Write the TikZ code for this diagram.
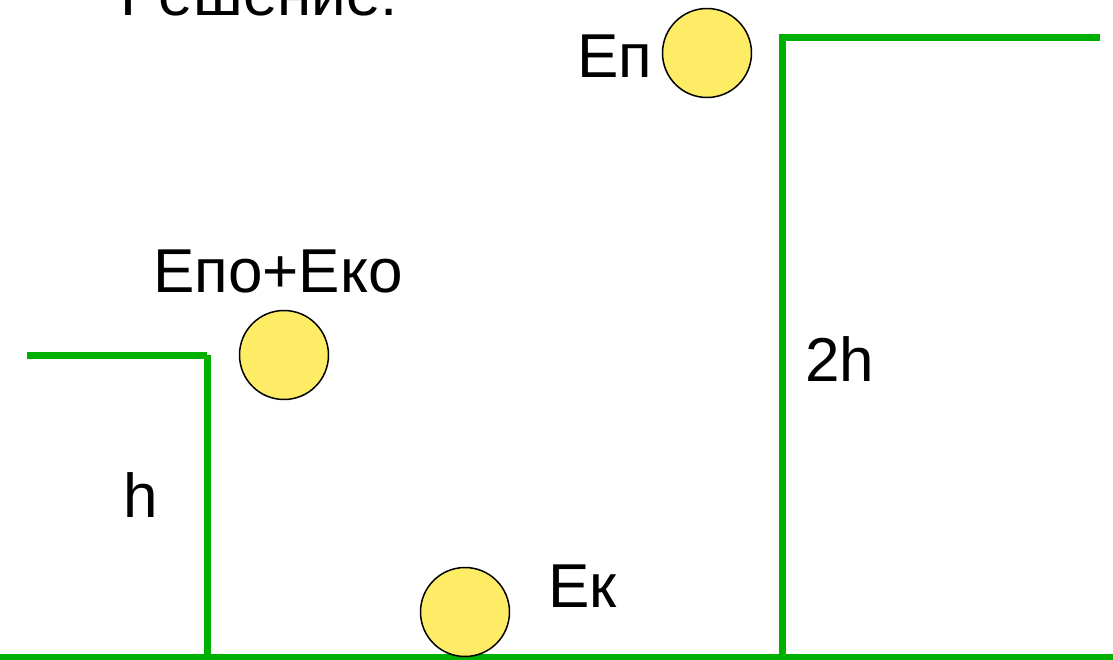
\documentclass[tikz,border=0pt]{standalone}
\usepackage{fontspec}
\setmainfont{Liberation Sans}
\definecolor{stepgreen}{RGB}{0,176,0}
\definecolor{ballyellow}{RGB}{255,236,102}

\begin{document}
\begin{tikzpicture}[x=1pt, y=-1pt,
    ground/.style={stepgreen, line width=7pt},
    ball/.style={circle, draw=black, line width=1.5pt, fill=ballyellow,
      minimum size=89pt, inner sep=0pt},
    lbl/.style={anchor=base west, inner sep=0pt,
      font=\fontsize{62}{62}\selectfont}]
    \useasboundingbox (0,0) rectangle (1113,660);
    % floor and the two steps
    \coordinate (fl) at (0,657);
    \coordinate (fr) at (1113,657);
    \coordinate (lowleft) at (27,355);
    \coordinate (lowtop) at (207,355);
    \coordinate (lowfoot) at (207,657);
    \coordinate (hightop) at (782,38);
    \coordinate (highright) at (1100,38);
    \coordinate (highfoot) at (782,657);
    \draw[ground] (fl) -- (fr);
    \draw[ground] (lowleft) -- (lowtop);
    \draw[ground] (lowtop) -- (lowfoot);
    \draw[ground] (highfoot) -- (hightop) -- (highright);
    % balls
    \node[ball] (top) at (707,53) {};
    \node[ball] (mid) at (284,355) {};
    \node[ball] (bottom) at (465,612) {};
    % labels
    \node[lbl] (title) at (120,16) {Решение:};
    \node[lbl] (ep) at (577,78) {Еп};
    \node[lbl] (epek) at (153,292) {Епо+Еко};
    \node[lbl] (ek) at (548,607) {Ек};
    \node[lbl] (h) at (123,517) {h};
    \node[lbl] (twoh) at (805,381) {2h};
\end{tikzpicture}
\end{document}
